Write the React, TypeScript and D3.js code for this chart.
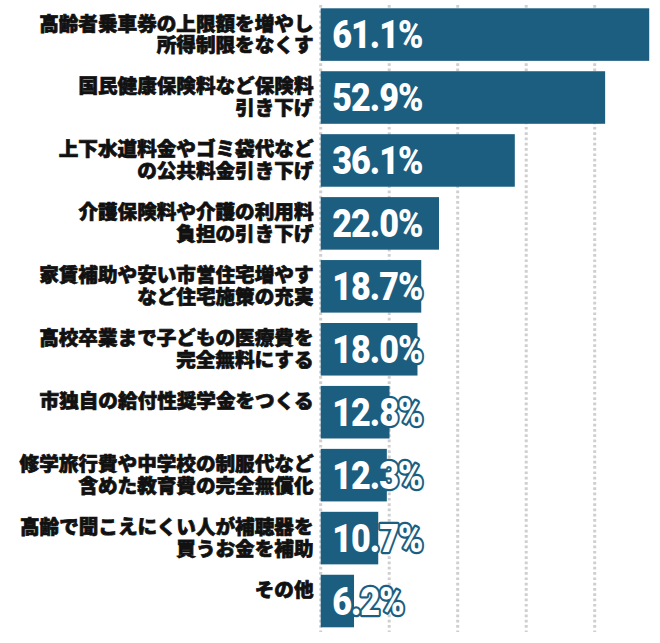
import { useLayoutEffect } from 'react'
import * as d3 from 'd3'

const CATEGORIES = [
  '高齢者乗車券の上限額を増やし\n所得制限をなくす',
  '国民健康保険料など保険料\n引き下げ',
  '上下水道料金やゴミ袋代など\nの公共料金引き下げ',
  '介護保険料や介護の利用料\n負担の引き下げ',
  '家賃補助や安い市営住宅増やす\nなど住宅施策の充実',
  '高校卒業まで子どもの医療費を\n完全無料にする',
  '市独自の給付性奨学金をつくる',
  '修学旅行費や中学校の制服代など\n含めた教育費の完全無償化',
  '高齢で聞こえにくい人が補聴器を\n買うお金を補助',
  'その他',
]
const VALUES = [61.1, 52.9, 36.1, 22.0, 18.7, 18.0, 12.8, 12.3, 10.7, 6.2]

const X_MAX = 63.7
const GRID_DIVISIONS = 5

const W = 660
const H = 643
const BAR = '#1b5e80'
const GRID = '#cfcfcf'
const LABEL_FONT = "'Noto Sans CJK JP', 'Noto Sans CJK SC', sans-serif"
const VALUE_FONT = "Roboto, 'Liberation Sans', sans-serif"

export default function App() {
  useLayoutEffect(() => {
    document.body.style.margin = '0'
  }, [])

  const x = d3.scaleLinear().domain([0, X_MAX]).range([320.7, 663.2])
  const y = d3.scaleBand<string>().domain(CATEGORIES).range([8.3, 627.3]).paddingInner(0.165).paddingOuter(0)
  const grid = d3.range(GRID_DIVISIONS + 1).map(i => (X_MAX / GRID_DIVISIONS) * i)

  return (
    <svg width={W} height={H} style={{ display: 'block' }}>
      <rect width={W} height={H} fill="#fff" />
      {/* dotted vertical grid */}
      {grid.map(g => (
        <line key={g} x1={x(g)} x2={x(g)} y1={5} y2={632}
          stroke={GRID} strokeWidth={3} strokeDasharray="2.7 2.6" />
      ))}
      {CATEGORIES.map((c, i) => {
        const top = y(c) ?? 0
        const lines = c.split('\n')
        return (
          <g key={c}>
            <rect x={x(0)} y={top} width={x(VALUES[i]) - x(0)} height={y.bandwidth()} fill={BAR} />
            {lines.map((ln, j) => (
              <text key={j} x={313.5} y={top + 13.7 + j * 21.9}
                textAnchor="end" dominantBaseline="central"
                fontFamily={LABEL_FONT} fontWeight={900} fontSize={19.6} fill="#111"
                stroke="#111" strokeWidth={0.7}>
                {ln}
              </text>
            ))}
            <text transform={`translate(${x(0) + 11.5},${top + y.bandwidth() / 2 + 13.5}) scale(0.9,1)`}
              fontFamily={VALUE_FONT} fontWeight={900} fontSize={38} letterSpacing={-1.1}
              fill="#fff" stroke={BAR} strokeWidth={4.5} strokeLinejoin="round"
              style={{ paintOrder: 'stroke' }}>
              {VALUES[i].toFixed(1)}%
            </text>
          </g>
        )
      })}
    </svg>
  )
}
